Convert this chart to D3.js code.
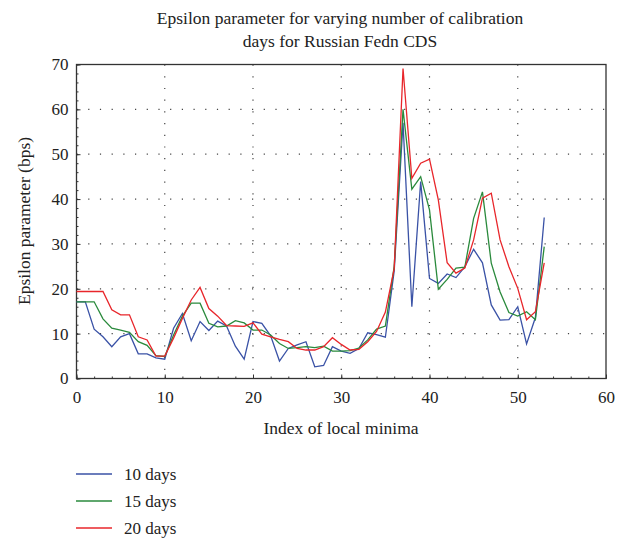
<!DOCTYPE html>
<html><head><meta charset="utf-8">
<script src="https://cdn.jsdelivr.net/npm/d3@7"></script>
<style>body{margin:0;background:#fff}</style>
</head><body>
<svg id="c" width="626" height="541"></svg>
<script>
const seriesNames = ["10 days", "15 days", "20 days"];
const seriesColors = ["#3a52a6", "#2a8a3c", "#e8262b"];
const days10 = [17.1,17.1,11.0,9.3,7.1,9.3,10.0,5.5,5.5,4.6,4.3,11.2,14.5,8.4,12.7,10.7,12.8,11.7,7.2,4.3,12.7,12.3,9.5,3.9,6.7,7.5,8.2,2.6,2.9,7.1,6.1,5.6,6.7,10.2,9.8,9.2,24.0,57.0,16.0,43.9,22.3,21.2,23.3,22.5,24.9,28.8,25.8,16.4,13.0,13.1,16.0,7.7,13.6,35.9];
const days15 = [17.1,17.1,17.1,13.3,11.2,10.8,10.3,8.2,7.4,5.1,4.9,9.7,13.9,16.8,16.8,12.3,11.5,11.7,12.9,12.4,10.8,10.8,9.7,7.8,6.7,6.9,7.1,6.9,7.2,6.1,6.1,6.2,6.8,8.6,11.0,11.7,25.0,60.0,42.2,45.0,37.6,19.9,22.1,24.6,24.8,35.7,41.6,25.7,19.3,14.7,13.9,14.9,13.1,29.4];
const days20 = [19.4,19.4,19.4,19.4,15.3,14.2,14.2,9.3,8.6,5.0,5.0,9.0,13.4,17.5,20.3,15.6,13.9,11.8,11.7,11.6,12.4,9.9,9.3,8.7,8.2,6.7,6.35,6.35,7.1,9.1,7.6,6.35,6.5,8.2,10.5,14.8,24.5,69.1,44.6,48.0,48.9,39.8,25.8,23.5,24.6,30.9,40.2,41.3,30.9,24.9,20.1,13.1,14.9,25.8];
const xTicks = [0,10,20,30,40,50,60];
const yTicks = [0,10,20,30,40,50,60,70];
const titleLines = ["Epsilon parameter for varying number of calibration", "days for Russian Fedn CDS"];
const xLabel = "Index of local minima";
const yLabel = "Epsilon parameter (bps)";

const svg = d3.select("#c");
const font = "'Liberation Serif', 'DejaVu Serif', serif";
const L = 76.5, R = 606, T = 64.5, B = 378.5;
const x = d3.scaleLinear().domain([0,60]).range([L,R]);
const y = d3.scaleLinear().domain([0,70]).range([B,T]);

// grid
const g = svg.append("g");
g.selectAll("line.gx").data(xTicks.slice(1,-1)).join("line")
  .attr("x1", d=>x(d)).attr("x2", d=>x(d)).attr("y1", T).attr("y2", B)
  .attr("stroke", "#444").attr("stroke-width", 1.2).attr("stroke-dasharray", "1.2,10.5");
g.selectAll("line.gy").data(yTicks.slice(1,-1)).join("line")
  .attr("y1", d=>y(d)).attr("y2", d=>y(d)).attr("x1", L).attr("x2", R)
  .attr("stroke", "#444").attr("stroke-width", 1.2).attr("stroke-dasharray", "1.2,10.5");

// axes (ticks inward)
const xAxis = d3.axisBottom(x).tickValues(xTicks).tickSize(-4).tickPadding(8).tickFormat(d3.format("d"));
const yAxis = d3.axisLeft(y).tickValues(yTicks).tickSize(-4).tickPadding(8).tickFormat(d3.format("d"));
const xMinor = d3.axisBottom(x).tickValues(d3.range(0,61,2)).tickSize(-2).tickFormat("");
const yMinor = d3.axisLeft(y).tickValues(d3.range(0,71,2)).tickSize(-2).tickFormat("");
[ [xMinor, `translate(0,${B})`], [yMinor, `translate(${L},0)`] ].forEach(([a,t]) => {
  const s = svg.append("g").attr("transform", t).call(a);
  s.select(".domain").remove();
  s.selectAll("line").attr("stroke", "#333");
});
const gx = svg.append("g").attr("transform", `translate(0,${B})`).call(xAxis);
const gy = svg.append("g").attr("transform", `translate(${L},0)`).call(yAxis);
[gx, gy].forEach(s => {
  s.select(".domain").remove();
  s.selectAll("line").attr("stroke", "#333");
  s.selectAll("text").attr("font-family", font).attr("font-size", 17).attr("fill", "#222");
});
gx.selectAll("text").attr("dy", "0.95em");

svg.append("rect").attr("x", L).attr("y", T).attr("width", R-L).attr("height", B-T)
  .attr("fill", "none").attr("stroke", "#333").attr("stroke-width", 1.3);

// lines
const allSeries = [days10, days15, days20];
const line = d3.line().x((d,i)=>x(i)).y(d=>y(d));
allSeries.forEach((s, k) => {
  svg.append("path").datum(s).attr("d", line)
    .attr("fill", "none").attr("stroke", seriesColors[k]).attr("stroke-width", 1.3)
    .attr("stroke-linejoin", "miter");
});

// title
svg.append("text").attr("x", 340).attr("y", 0).attr("text-anchor", "middle")
  .attr("font-family", font).attr("font-size", 17.5).attr("fill", "#222")
  .selectAll("tspan").data(titleLines).join("tspan")
  .attr("x", 340).attr("y", (d,i)=>23.5 + i*23).text(d=>d);

// axis labels
svg.append("text").attr("x", 341).attr("y", 434).attr("text-anchor", "middle")
  .attr("font-family", font).attr("font-size", 17.5).attr("fill", "#222").text(xLabel);
svg.append("text").attr("transform", "translate(30,221) rotate(-90)").attr("text-anchor", "middle")
  .attr("font-family", font).attr("font-size", 17.5).attr("fill", "#222").text(yLabel);

// legend
const lg = svg.append("g");
seriesNames.forEach((n, k) => {
  const yy = 474 + k*27;
  lg.append("line").attr("x1", 76).attr("x2", 112).attr("y1", yy).attr("y2", yy)
    .attr("stroke", seriesColors[k]).attr("stroke-width", 1.3);
  lg.append("text").attr("x", 124).attr("y", yy + 6).attr("font-family", font)
    .attr("font-size", 17).attr("fill", "#222").text(n);
});
</script>
</body></html>
